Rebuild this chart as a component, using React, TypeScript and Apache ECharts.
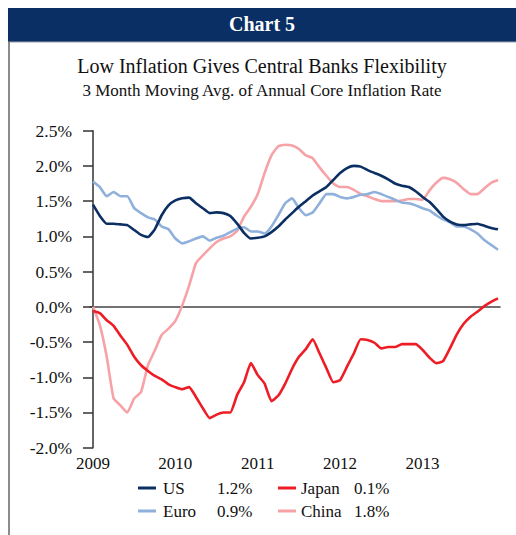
import React, { useEffect, useRef } from "react";
import * as echarts from "echarts";

// Monthly data, Jan 2009 .. Dec 2013 (3M moving avg of annual core inflation, %)
const US = [1.45, 1.29, 1.18, 1.18, 1.17, 1.16, 1.09, 1.02, 0.99, 1.1, 1.3, 1.44, 1.51, 1.54, 1.55, 1.47, 1.4, 1.33, 1.34, 1.33, 1.29, 1.18, 1.05, 0.97, 0.98, 1.0, 1.06, 1.14, 1.24, 1.33, 1.42, 1.5, 1.58, 1.64, 1.7, 1.8, 1.9, 1.97, 2.0, 1.99, 1.94, 1.9, 1.86, 1.81, 1.75, 1.72, 1.7, 1.64, 1.56, 1.49, 1.39, 1.28, 1.21, 1.17, 1.16, 1.17, 1.18, 1.15, 1.12, 1.1];
const EURO = [1.78, 1.7, 1.57, 1.63, 1.57, 1.57, 1.4, 1.33, 1.27, 1.24, 1.14, 1.1, 0.97, 0.9, 0.93, 0.97, 1.0, 0.94, 0.98, 1.01, 1.06, 1.11, 1.13, 1.07, 1.07, 1.04, 1.14, 1.3, 1.47, 1.54, 1.4, 1.3, 1.34, 1.47, 1.6, 1.6, 1.56, 1.54, 1.56, 1.59, 1.6, 1.63, 1.6, 1.56, 1.52, 1.48, 1.47, 1.44, 1.4, 1.37, 1.3, 1.24, 1.2, 1.14, 1.14, 1.1, 1.04, 0.95, 0.88, 0.81];
const JAPAN = [-0.06, -0.09, -0.19, -0.27, -0.41, -0.54, -0.71, -0.83, -0.91, -0.98, -1.03, -1.1, -1.14, -1.17, -1.14, -1.28, -1.44, -1.58, -1.53, -1.5, -1.5, -1.25, -1.07, -0.8, -0.97, -1.09, -1.34, -1.26, -1.09, -0.88, -0.71, -0.6, -0.46, -0.66, -0.87, -1.07, -1.04, -0.85, -0.66, -0.46, -0.47, -0.51, -0.59, -0.57, -0.57, -0.53, -0.53, -0.53, -0.61, -0.72, -0.8, -0.77, -0.59, -0.39, -0.24, -0.14, -0.07, 0.01, 0.07, 0.12];
const CHINA = [0.0, -0.26, -0.71, -1.3, -1.4, -1.5, -1.3, -1.21, -0.83, -0.62, -0.4, -0.31, -0.2, 0.02, 0.3, 0.62, 0.73, 0.83, 0.92, 0.97, 1.0, 1.08, 1.28, 1.42, 1.6, 1.9, 2.15, 2.28, 2.3, 2.29, 2.24, 2.15, 2.11, 1.98, 1.86, 1.75, 1.7, 1.7, 1.66, 1.6, 1.57, 1.53, 1.5, 1.5, 1.5, 1.51, 1.53, 1.53, 1.52, 1.65, 1.76, 1.83, 1.81, 1.76, 1.67, 1.6, 1.6, 1.68, 1.76, 1.8];

const START_YEAR = 2009;
const YEAR_TICKS = [0, 12, 24, 36, 48];
const LEGEND_NAMES = ["US", "Euro", "Japan", "China"];
const LEGEND_VALUES = ["1.2%", "0.9%", "0.1%", "1.8%"];

const NAVY = "#0A2F64";
const COLORS = { US: "#0B2F63", Euro: "#8FB0DA", Japan: "#EE1D25", China: "#F6A2A6" };
const FONT = "Liberation Serif";

export default function App() {
  const ref = useRef<HTMLDivElement>(null);
  useEffect(() => {
    document.body.style.margin = "0";
    const chart = echarts.init(ref.current!, null, { renderer: "svg" });
    const toPairs = (arr: number[]) => arr.map((v, i) => [i, v]);
    const lineSeries = (name: string, arr: number[], color: string, z: number) => ({
      name,
      type: "line",
      data: toPairs(arr),
      showSymbol: false,
      symbol: "none",
      smooth: 0.15,
      z,
      lineStyle: { color, width: 2.6 },
      itemStyle: { color },
    });
    const textStyle = (text: string, size: number, fill = "#111", weight = "normal", align = "left") => ({
      text,
      fill,
      fontFamily: FONT,
      fontSize: size,
      fontWeight: weight,
      align,
      verticalAlign: "middle",
    });
    const legendItems: any[] = [];
    const legendPos = [
      { lx: 138, tx: 163, vx: 217, y: 488 },
      { lx: 138, tx: 163, vx: 217, y: 511 },
      { lx: 278, tx: 301, vx: 354, y: 488 },
      { lx: 278, tx: 301, vx: 354, y: 511 },
    ];
    LEGEND_NAMES.forEach((n, i) => {
      const p = legendPos[i];
      legendItems.push({
        type: "line",
        shape: { x1: p.lx, y1: p.y, x2: p.lx + 18, y2: p.y },
        style: { stroke: (COLORS as any)[n], lineWidth: 3 },
      });
      legendItems.push({ type: "text", x: p.tx, y: p.y, style: textStyle(n, 17) });
      legendItems.push({ type: "text", x: p.vx, y: p.y, style: textStyle(LEGEND_VALUES[i], 17) });
    });

    chart.setOption({
      animation: false,
      backgroundColor: "#ffffff",
      textStyle: { fontFamily: FONT },
      grid: { left: 90, right: 16, top: 130.7, bottom: 87.3, containLabel: false },
      xAxis: [
        {
          type: "value",
          min: -0.437,
          max: 59.29,
          position: "bottom",
          axisLine: { show: false, onZero: false },
          axisTick: { show: false },
          splitLine: { show: false },
          axisLabel: {
            customValues: YEAR_TICKS,
            formatter: (v: number) => String(START_YEAR + Math.round(v / 12)),
            color: "#111",
            fontFamily: FONT,
            fontSize: 17,
            margin: 7,
          },
        },
        {
          type: "value",
          min: -0.437,
          max: 59.29,
          position: "top",
          axisLine: { show: true, onZero: true, lineStyle: { color: "#444", width: 1.6 } },
          axisTick: { show: false },
          axisLabel: { show: false },
          splitLine: { show: false },
        },
      ],
      yAxis: {
        type: "value",
        min: -2,
        max: 2.5,
        interval: 0.5,
        axisLine: { show: true, lineStyle: { color: "#333", width: 1.5 } },
        axisTick: { show: true, length: 10, inside: false, lineStyle: { color: "#333", width: 1.5 } },
        splitLine: { show: false },
        axisLabel: {
          formatter: (v: number) => v.toFixed(1) + "%",
          color: "#111",
          fontFamily: FONT,
          fontSize: 17.5,
          margin: 18,
        },
      },
      series: [
        lineSeries("China", CHINA, COLORS.China, 2),
        lineSeries("Euro", EURO, COLORS.Euro, 3),
        lineSeries("Japan", JAPAN, COLORS.Japan, 4),
        lineSeries("US", US, COLORS.US, 5),
      ],
      graphic: [
        { type: "rect", shape: { x: 8, y: 8, width: 508, height: 34 }, style: { fill: NAVY } },
        { type: "line", shape: { x1: 8, y1: 42, x2: 516, y2: 42 }, style: { stroke: "#9aa0a8", lineWidth: 1 } },
        { type: "line", shape: { x1: 9, y1: 42, x2: 9, y2: 535 }, style: { stroke: "#666", lineWidth: 1.5 } },
        { type: "text", x: 262, y: 24, style: textStyle("Chart 5", 20, "#fff", "bold", "center") },
        { type: "text", x: 262, y: 66, style: textStyle("Low Inflation Gives Central Banks Flexibility", 20, "#111", "normal", "center") },
        { type: "text", x: 262, y: 90, style: textStyle("3 Month Moving Avg. of Annual Core Inflation Rate", 17, "#111", "normal", "center") },
        ...legendItems,
      ],
    });
    return () => chart.dispose();
  }, []);
  return <div ref={ref} style={{ width: 516, height: 535 }} />;
}
